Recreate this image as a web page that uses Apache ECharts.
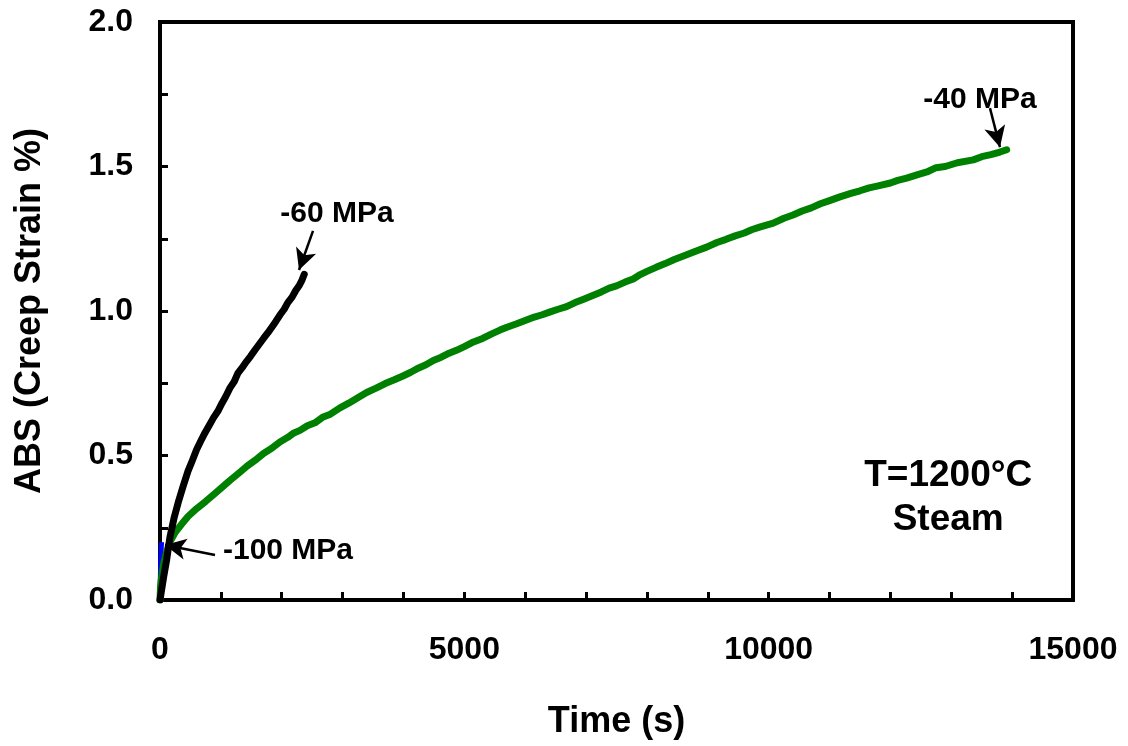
<!DOCTYPE html>
<html>
<head>
<meta charset="utf-8">
<script src="https://cdn.jsdelivr.net/npm/echarts@6/dist/echarts.min.js"></script>
<style>
  html, body { margin: 0; padding: 0; background: #fff; }
  #chart { width: 1128px; height: 746px; }
</style>
</head>
<body>
<div id="chart"></div>
<script>
// Creep strain (absolute value, %) versus time at 1200 °C in steam.
// Each series is a list of [time (s), strain (%)] readings.
const strain40MPa = [
  [0, 0], [10, 0.05], [30, 0.085], [60, 0.125], [100, 0.16], [160, 0.2],
  [250, 0.234], [350, 0.261], [460, 0.289], [600, 0.316], [750, 0.341],
  [900, 0.368], [1018, 0.39], [1150, 0.414], [1300, 0.44], [1430, 0.463],
  [1560, 0.483], [1700, 0.507], [1830, 0.524], [1970, 0.547], [2100, 0.563],
  [2200, 0.578], [2300, 0.587], [2420, 0.603], [2546, 0.613], [2670, 0.632],
  [2800, 0.643], [2950, 0.664], [3100, 0.681], [3250, 0.7], [3395, 0.718],
  [3550, 0.733], [3700, 0.749], [3850, 0.762], [4000, 0.776], [4120, 0.788],
  [4250, 0.803], [4370, 0.814], [4490, 0.829], [4620, 0.84], [4750, 0.854],
  [4870, 0.864], [5000, 0.877], [5150, 0.893], [5300, 0.905], [5450, 0.921],
  [5585, 0.934], [5700, 0.944], [5850, 0.955], [6000, 0.967], [6150, 0.979],
  [6280, 0.987], [6400, 0.996], [6540, 1.006], [6680, 1.015], [6820, 1.029],
  [6950, 1.04], [7100, 1.053], [7250, 1.066], [7380, 1.079], [7500, 1.087],
  [7640, 1.1], [7775, 1.111], [7890, 1.126], [8000, 1.137], [8150, 1.151],
  [8300, 1.164], [8450, 1.178], [8600, 1.19], [8800, 1.207], [8981, 1.221],
  [9150, 1.237], [9300, 1.248], [9450, 1.26], [9600, 1.27], [9720, 1.281],
  [9850, 1.29], [10076, 1.304], [10250, 1.321], [10400, 1.332], [10550, 1.346],
  [10700, 1.357], [10850, 1.371], [11000, 1.382], [11171, 1.395], [11350, 1.407],
  [11500, 1.416], [11650, 1.426], [11800, 1.433], [12000, 1.443], [12120, 1.452],
  [12267, 1.46], [12450, 1.472], [12600, 1.481], [12750, 1.496], [12900, 1.5],
  [13100, 1.513], [13362, 1.523], [13500, 1.534], [13650, 1.541], [13800, 1.55],
  [13910, 1.558]
];
const strain60MPa = [
  [0, 0], [30, 0.04], [60, 0.08], [110, 0.14], [164, 0.218], [230, 0.283],
  [300, 0.338], [380, 0.394], [460, 0.446], [530, 0.482], [600, 0.52],
  [670, 0.55], [740, 0.579], [810, 0.605], [880, 0.631], [950, 0.653],
  [1018, 0.681], [1080, 0.704], [1150, 0.734], [1220, 0.756], [1280, 0.785],
  [1350, 0.804], [1420, 0.825], [1490, 0.844], [1560, 0.865], [1630, 0.885],
  [1700, 0.905], [1770, 0.924], [1840, 0.945], [1900, 0.963], [1970, 0.986],
  [2040, 1.006], [2100, 1.029], [2170, 1.048], [2230, 1.071], [2290, 1.089],
  [2333, 1.107], [2370, 1.127]
];
const strain100MPa = [
  [0, 0], [4, 0.06], [8, 0.1], [12, 0.13], [17, 0.16], [22, 0.185], [26, 0.2]
];

// Stress labels and the point each arrow indicates: [labelX, labelY, tailX, tailY, tipX, tipY]
const stressLabels = ['-40 MPa', '-60 MPa', '-100 MPa'];
const stressArrows = [
  [13471, 1.730, 13636, 1.702, 13800, 1.567],
  [2908, 1.336, 2514, 1.277, 2284, 1.142],
  [2103, 0.170, 904, 0.156, 82, 0.190]
];
const conditionNote = ['T=1200°C', 'Steam'];
const conditionPos = [12950, 0.355];

const xTicks = { min: 0, max: 15000, step: 1000, labelEvery: 5000 };
const yTicks = { min: 0, max: 2.0, step: 0.25, labelEvery: 0.5 };

const FONT = '"Liberation Sans", Arial, Helvetica, sans-serif';

const chart = echarts.init(document.getElementById('chart'), null, { renderer: 'canvas' });

const arrowLines = stressArrows.map(a => [
  { coord: [a[2], a[3]] },
  { coord: [a[4], a[5]] }
]);
const labelPoints = stressArrows.map((a, i) => ({ value: [a[0], a[1]], name: stressLabels[i] }));

const textStyleBase = { fontFamily: FONT, fontWeight: 'bold', color: '#000' };

chart.setOption({
  animation: false,
  backgroundColor: '#fff',
  grid: {
    left: 160, right: 55, top: 22, bottom: 146,
    show: true, borderColor: '#000', borderWidth: 4, backgroundColor: 'transparent'
  },
  xAxis: {
    type: 'value',
    min: xTicks.min, max: xTicks.max, interval: xTicks.step,
    name: 'Time (s)', nameLocation: 'middle', nameGap: 104,
    nameTextStyle: Object.assign({ fontSize: 36 }, textStyleBase),
    axisLine: { show: true, onZero: false, lineStyle: { color: '#000', width: 4 } },
    axisTick: { show: true, inside: true, length: 8, lineStyle: { color: '#000', width: 3 } },
    axisLabel: Object.assign({
      margin: 34, fontSize: 32,
      formatter: v => (Math.round(v) % xTicks.labelEvery === 0 ? String(v) : '')
    }, textStyleBase),
    splitLine: { show: false }
  },
  yAxis: {
    type: 'value',
    min: yTicks.min, max: yTicks.max, interval: yTicks.step,
    name: 'ABS (Creep Strain %)', nameLocation: 'middle', nameGap: 112,
    nameTextStyle: Object.assign({ fontSize: 36 }, textStyleBase),
    axisLine: { show: true, onZero: false, lineStyle: { color: '#000', width: 4 } },
    axisTick: { show: true, inside: true, length: 8, lineStyle: { color: '#000', width: 3 } },
    axisLabel: Object.assign({
      margin: 27, fontSize: 32,
      formatter: v => (Math.abs(v / yTicks.labelEvery - Math.round(v / yTicks.labelEvery)) < 1e-6 ? v.toFixed(1) : '')
    }, textStyleBase),
    splitLine: { show: false }
  },
  series: [
    {
      name: '-100 MPa', type: 'line', data: strain100MPa, showSymbol: false,
      lineStyle: { color: '#0000ff', width: 5 }, z: 2
    },
    {
      name: '-40 MPa', type: 'line', data: strain40MPa, showSymbol: false,
      lineStyle: { color: '#008000', width: 7, join: 'round', cap: 'round' }, z: 3
    },
    {
      name: '-60 MPa', type: 'line', data: strain60MPa, showSymbol: false,
      lineStyle: { color: '#000', width: 7, join: 'round', cap: 'round' }, z: 4,
      markLine: {
        silent: true, animation: false,
        symbol: ['none', 'arrow'], symbolSize: [16, 21],
        lineStyle: { color: '#000', width: 2.5, type: 'solid', opacity: 1 },
        itemStyle: { color: '#000', opacity: 1 },
        label: { show: false },
        data: arrowLines
      }
    },
    {
      name: 'labels', type: 'scatter', data: labelPoints, symbolSize: 0, z: 6,
      itemStyle: { opacity: 1 },
      label: Object.assign({
        show: true, position: 'inside', formatter: p => p.name, fontSize: 30
      }, textStyleBase)
    },
    {
      name: 'note', type: 'scatter', data: [conditionPos], symbolSize: 0, z: 6,
      itemStyle: { opacity: 1 },
      label: Object.assign({
        show: true, position: 'inside', formatter: conditionNote.join('\n'),
        fontSize: 37, lineHeight: 44, align: 'center'
      }, textStyleBase)
    }
  ]
});
</script>
</body>
</html>
